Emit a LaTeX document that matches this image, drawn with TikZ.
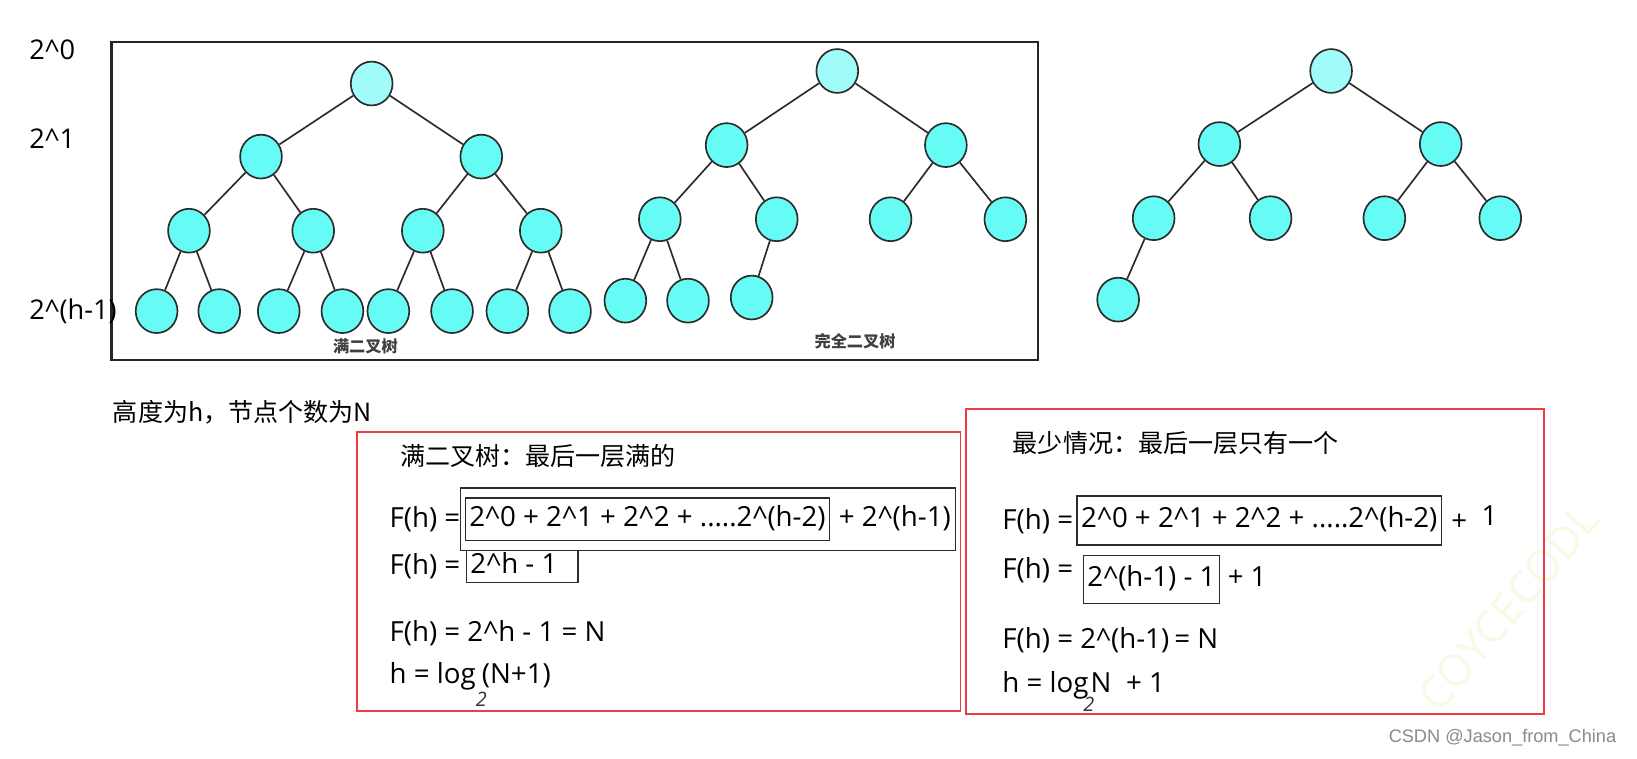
\documentclass[tikz,border=0pt]{standalone}
\usepackage{fontspec}
\setmainfont{Open Sans}
\newfontfamily\cjk{Noto Sans CJK SC}
\newfontfamily\csdnfont{Liberation Sans}
\usetikzlibrary{shapes.geometric,fit}
\definecolor{nodefill}{HTML}{66FCF5}
\definecolor{rootfill}{HTML}{A0FCF8}
\definecolor{edgec}{HTML}{2C2C2C}
\definecolor{redbox}{HTML}{EE3B45}
\definecolor{csdn}{HTML}{8A8A8A}
\definecolor{wmark}{HTML}{F6FBE6}
\newcommand\crt{\textasciicircum}
\begin{document}
\begin{tikzpicture}[x=1pt,y=-1pt,
  tn/.style={ellipse,draw=edgec,line width=1.6pt,fill=nodefill,minimum width=40pt,minimum height=42pt,inner sep=0pt},
  rt/.style={tn,fill=rootfill},
  edge/.style={draw=edgec,line width=1.6pt},
  lvl/.style={anchor=west,inner sep=0pt,font=\fontsize{26}{30}\selectfont},
  tcap/.style={inner sep=0pt,text=black!75,font=\cjk\bfseries\fontsize{15.5}{18}\selectfont},
  zh/.style={anchor=west,inner sep=0pt,font=\cjk\fontsize{24}{28}\selectfont},
  fx/.style={anchor=base west,inner sep=0pt,font=\fontsize{26.5}{30}\selectfont},
  fbox/.style={fx,draw=edgec,line width=1.2pt,text height=20pt,text depth=6pt,inner xsep=4pt},
  hand/.style={inner sep=0pt,text=black!80,font=\itshape\fontsize{19}{20}\selectfont},
  redframe/.style={draw=redbox,line width=1.5pt}
]
\useasboundingbox[fill=white] (0,0) rectangle (1568,727);

% watermark (faint, behind everything)
\node[rotate=50,text=wmark,inner sep=0pt,font=\fontsize{42}{44}\selectfont] (wm) at (1445,582) {COYCECODL};

% frame around the first two trees
\draw[draw=black!85,line width=2.4pt] (107,40) rectangle (994,345);

% ---- full binary tree
\node[rt] (a0) at (356,80) {};
\node[tn] (a1) at (250,150) {};
\node[tn] (a2) at (461,150) {};
\node[tn] (a3) at (181,221) {};
\node[tn] (a4) at (300,221) {};
\node[tn] (a5) at (405,221) {};
\node[tn] (a6) at (518,221) {};
\node[tn] (a7) at (150,298) {};
\node[tn] (a8) at (210,298) {};
\node[tn] (a9) at (267,298) {};
\node[tn] (a10) at (328,298) {};
\node[tn] (a11) at (372,298) {};
\node[tn] (a12) at (433,298) {};
\node[tn] (a13) at (486,298) {};
\node[tn] (a14) at (546,298) {};
\path[edge] (a0)--(a1) (a0)--(a2) (a1)--(a3) (a1)--(a4) (a2)--(a5) (a2)--(a6)
  (a3)--(a7) (a3)--(a8) (a4)--(a9) (a4)--(a10) (a5)--(a11) (a5)--(a12) (a6)--(a13) (a6)--(a14);
\node[tcap] (capA) at (350,332) {满二叉树};

% ---- complete binary tree
\node[rt] (b0) at (802,68) {};
\node[tn] (b1) at (696,139) {};
\node[tn] (b2) at (906,139) {};
\node[tn] (b3) at (632,210) {};
\node[tn] (b4) at (744,210) {};
\node[tn] (b5) at (853,210) {};
\node[tn] (b6) at (963,210) {};
\node[tn] (b7) at (599,288) {};
\node[tn] (b8) at (659,288) {};
\node[tn] (b9) at (720,285) {};
\path[edge] (b0)--(b1) (b0)--(b2) (b1)--(b3) (b1)--(b4) (b2)--(b5) (b2)--(b6)
  (b3)--(b7) (b3)--(b8) (b4)--(b9);
\node[tcap] (capB) at (819,327) {完全二叉树};

% ---- minimal tree
\node[rt] (c0) at (1275,68) {};
\node[tn] (c1) at (1168,138) {};
\node[tn] (c2) at (1380,138) {};
\node[tn] (c3) at (1105,209) {};
\node[tn] (c4) at (1217,209) {};
\node[tn] (c5) at (1326,209) {};
\node[tn] (c6) at (1437,209) {};
\node[tn] (c7) at (1071,287) {};
\path[edge] (c0)--(c1) (c0)--(c2) (c1)--(c3) (c1)--(c4) (c2)--(c5) (c2)--(c6) (c3)--(c7);

% level labels
\node[lvl] (L0) at (28,48) {2\crt 0};
\node[lvl] (L1) at (28,133) {2\crt 1};
\node[lvl] (L2) at (28,298) {2\crt(h-1)};

% intro
\node[zh] (intro) at (108,395) {高度为h，节点个数为N};

% ---- left red box
\draw[redframe] (342,414) rectangle (920,681);
\node[zh] (ltitle) at (383,437) {满二叉树：最后一层满的};
\node[fx] (l1f) at (373,505) {F(h) =};
\node[fbox,inner ysep=7.5pt] (l1b) at (445,504.5) {2\crt 0 + 2\crt 1 + 2\crt 2 + .....2\crt(h-2)};
\node[fx] (l1t) at ([xshift=8pt]l1b.base east) {+ 2\crt(h-1)};
\node[draw=edgec,line width=1.2pt,fit=(l1b)(l1t),inner xsep=4pt,inner ysep=9pt] (l1o) {};
\node[fx] (l2f) at (373,550) {F(h) =};
\node[fbox,inner ysep=2.5pt] (l2b) at (446,549.5) {\makebox[99pt][l]{2\crt h - 1}};
\node[fx] (l3) at (373,614) {F(h) = 2\crt h - 1 = N};
\node[fx] (l4) at (373,655) {h = log\hspace{6pt}(N+1)};
\node[hand] (l4s) at (461,670) {2};

% ---- right red box
\draw[redframe] (925,392) rectangle (1479,684);
\node[zh] (rtitle) at (970,424) {最少情况：最后一层只有一个};
\node[fx] (r1f) at (960,507) {F(h) =};
\node[fbox,inner ysep=10.5pt] (r1b) at (1031,505.5) {2\crt 0 + 2\crt 1 + 2\crt 2 + .....2\crt(h-2)};
\node[fx] (r1p) at (1390,508) {+};
\node[fx] (r1o) at (1419,503) {1};
\node[fx] (r2f) at (960,554) {F(h) =};
\node[fbox,inner ysep=10pt] (r2b) at (1037,562) {2\crt(h-1) - 1};
\node[fx] (r2t) at ([xshift=7pt]r2b.base east) {+ 1};
\node[fx] (r3) at (960,621) {F(h) = 2\crt(h-1)\hspace{5pt}= N};
\node[fx] (r4) at (960,663) {h = log\hspace{2pt}N\hspace{14pt}+ 1};
\node[hand] (r4s) at (1043,675) {2};

% credit
\node[anchor=west,inner sep=0pt,text=csdn,font=\csdnfont\fontsize{17.4}{20}\selectfont] (credit) at (1330,707) {CSDN @Jason\_from\_China};
\end{tikzpicture}
\end{document}
